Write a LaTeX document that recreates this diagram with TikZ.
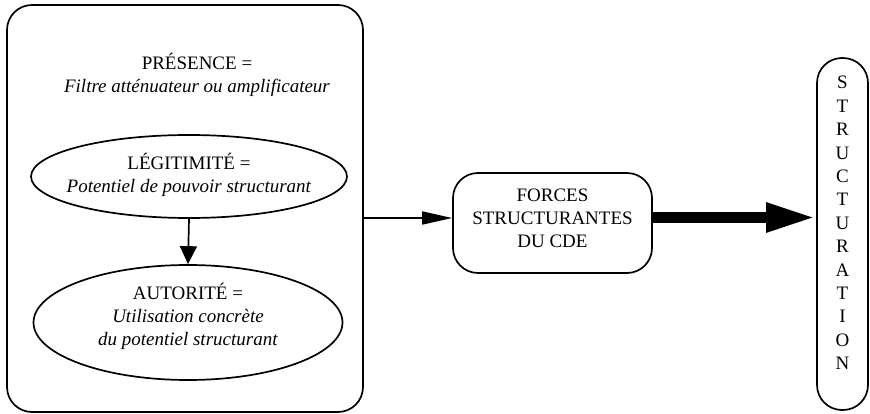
\documentclass[tikz,border=0pt]{standalone}
\usepackage{fontspec}
\setmainfont{Liberation Serif}
\usepackage{tikz}
\usetikzlibrary{arrows.meta, shapes.geometric}

\begin{document}
\begin{tikzpicture}
      [x=1pt, y=-1pt,
      font=\fontsize{19}{22.8}\selectfont,
      box/.style={draw=black, rounded corners=25pt, line width=1.7pt, align=center, inner sep=0pt},
      oval/.style={ellipse, draw=black, line width=1.7pt, inner sep=0pt},
      arr/.style={-{Triangle[length=18pt,width=17pt]}, line width=1.7pt},
      longarr/.style={-{Triangle[length=30pt,width=13pt]}, line width=1.7pt},
      fatarr/.style={-{Triangle[length=50pt,width=27pt]}, line width=11pt}]
      \useasboundingbox (0,0) rectangle (870,414);
      \node (cde) at (185,208.5) [box, minimum width=356, minimum height=407] {};
      \node (presence) at (197,75) [align=center]
        {PRÉSENCE =\\ \textit{Filtre atténuateur ou amplificateur}};
      \node (legit) at (189,176.5) [oval, minimum width=316, minimum height=83] {};
      \node (legitxt) at ([yshift=2pt]legit.center) [align=center]
        {LÉGITIMITÉ =\\ \textit{Potentiel de pouvoir structurant}};
      \node (autor) at (188,322.5) [oval, minimum width=309, minimum height=115] {};
      \node (autortxt) at ([yshift=6pt]autor.center) [align=center]
        {AUTORITÉ =\\ \textit{Utilisation concrète}\\ \textit{du potentiel structurant}};
      \node (forces) at (552.5,223) [box, minimum width=199, minimum height=100, text depth=10pt]
        {FORCES\\ STRUCTURANTES\\ DU CDE};
      \node (struct) at (842.5,234) [box, minimum width=51, minimum height=352] {};
      \node (structxt) at ([yshift=11pt]struct.center)
        [align=center, font=\fontsize{19}{23.4}\selectfont]
        {S\\T\\R\\U\\C\\T\\U\\R\\A\\T\\I\\O\\N};
      \draw[arr] (legit.south) -- (autor.north);
      \draw[longarr] (cde.east |- 0,218) -- (forces.west |- 0,218);
      \draw[fatarr] (forces.east |- 0,217.5) -- (struct.west |- 0,217.5);
\end{tikzpicture}
\end{document}
